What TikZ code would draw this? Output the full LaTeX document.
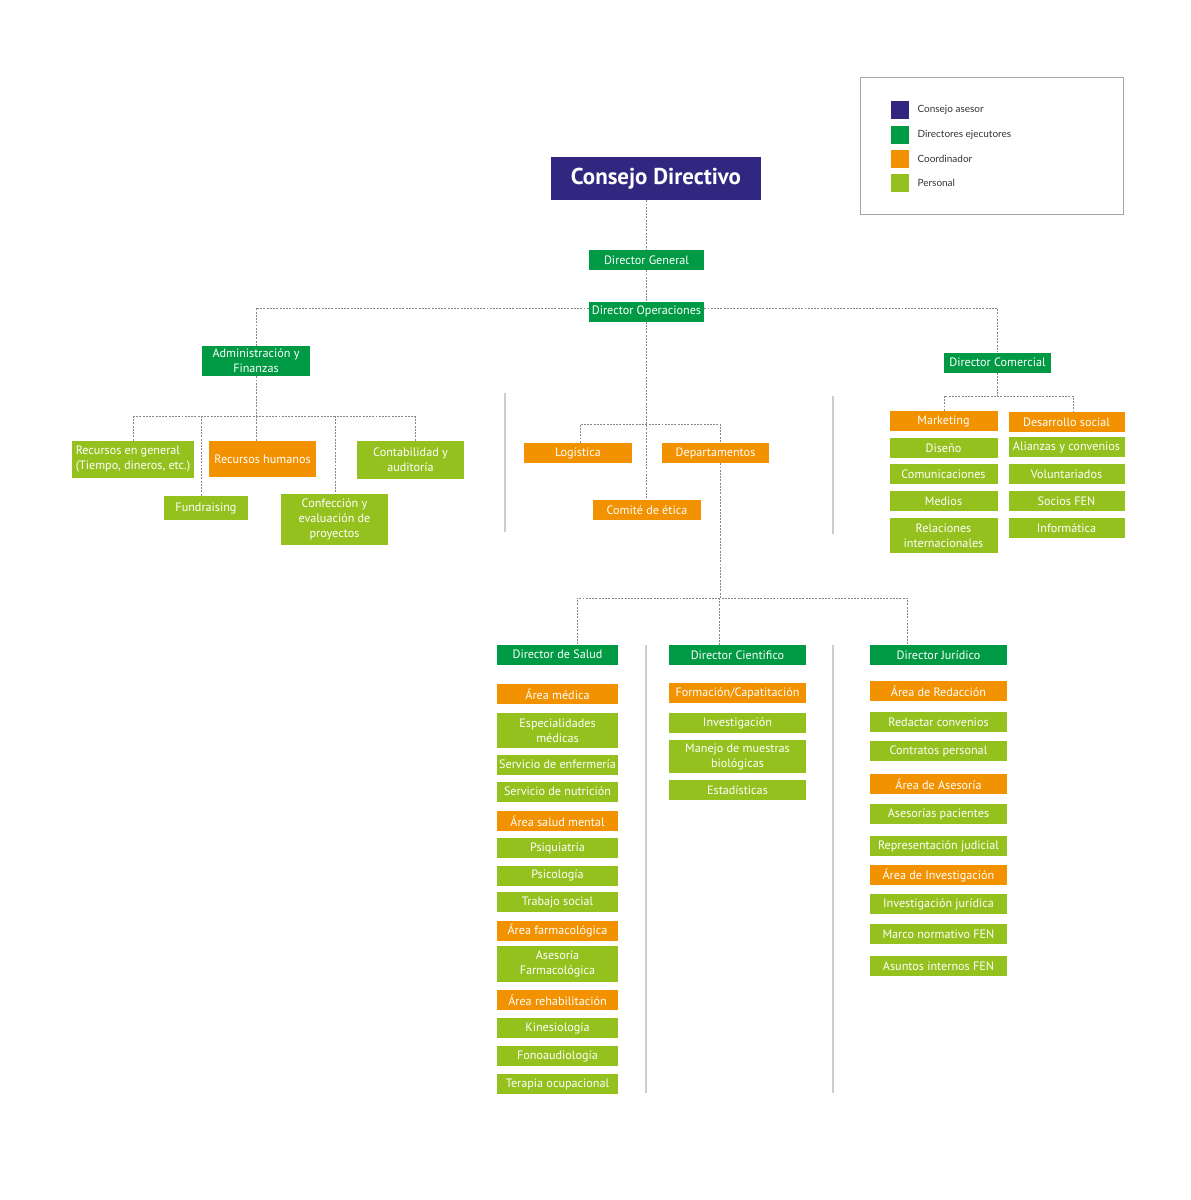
\documentclass[tikz,border=0pt]{standalone}
\usepackage{fontspec}
\setmainfont{PT Sans}
\newfontfamily\legendfont{Lato}
\usetikzlibrary{positioning}
\definecolor{consejoc}{RGB}{50,39,128}
\definecolor{directorc}{RGB}{0,154,68}
\definecolor{coordc}{RGB}{243,146,0}
\definecolor{personalc}{RGB}{149,193,31}
\definecolor{linkc}{RGB}{135,135,135}
\definecolor{sepc}{RGB}{205,205,205}
\definecolor{legc}{RGB}{165,165,165}

\begin{document}
\begin{tikzpicture}[x=0.25mm, y=-0.25mm, font=\fontsize{8.65}{10.7}\selectfont,
box/.style 2 args={rectangle, text=white, inner sep=0pt, align=center,
      minimum width=#1*0.25mm, minimum height=#2*0.25mm},
consbox/.style={fill=consejoc},
dirbox/.style={fill=directorc},
coordbox/.style={fill=coordc},
persbox/.style={fill=personalc},
link/.style={draw=linkc, line width=0.55pt, dash pattern=on 1.4pt off 0.9pt},
sepline/.style={draw=sepc, line width=0.8pt},
legsq/.style={rectangle, minimum size=4.5mm, inner sep=0pt},
legtext/.style={inner sep=0pt, text=black!80, font=\legendfont\fontsize{7.1}{8}\selectfont},]
 \useasboundingbox (0,0) rectangle (1191,1200);

 % legend
 \node[draw=legc, line width=0.7pt, minimum width=65.75mm, minimum height=34.25mm, inner sep=0pt] (legend) at (991.5,145.5) {};
 \node[legsq, fill=consejoc] (legcons) at (900,110) {};
 \node[legsq, fill=directorc] (legdir) at (900,134.5) {};
 \node[legsq, fill=coordc] (legcoord) at (900,158.5) {};
 \node[legsq, fill=personalc] (legpers) at (900,183) {};
 \node[legtext, right=2mm of legcons] (txtcons) {Consejo asesor};
 \node[legtext, right=2mm of legdir] (txtdir) {Directores ejecutores};
 \node[legtext, right=2mm of legcoord] (txtcoord) {Coordinador};
 \node[legtext, right=2mm of legpers] (txtpers) {Personal};

 \node[box={210}{43}, consbox, font=\fontsize{16.3}{18}\selectfont\bfseries] (consejo) at (656,178.5) {Consejo Directivo};
 \node[box={115}{20}, dirbox] (general) at (646.5,260) {Director General};
 \node[box={115}{20}, dirbox] (ops) at (646.5,311.5) {Director Operaciones};
 \node[box={108}{30}, dirbox] (admin) at (256,361) {Administración y\\Finanzas};
 \node[box={107}{20}, dirbox] (comercial) at (997.5,362.5) {Director Comercial};

 \node[box={122}{37}, persbox, align=left] (recgen) at (133,459.5) {Recursos en general\\(Tiempo, dineros, etc.)};
 \node[box={107}{36}, coordbox] (rrhh) at (262.5,459) {Recursos humanos};
 \node[box={107}{38}, persbox] (contab) at (410.5,460) {Contabilidad y\\auditoría};
 \node[box={84}{24}, persbox] (fund) at (206,508) {Fundraising};
 \node[box={107}{51}, persbox] (confec) at (334.5,519.5) {Confección y\\evaluación de\\proyectos};

 \node[box={108}{20}, coordbox] (logist) at (578,453) {Logística};
 \node[box={107}{20}, coordbox] (depto) at (715.5,453) {Departamentos};
 \node[box={108}{20}, coordbox] (etica) at (647,510) {Comité de ética};

 \node[box={108}{20}, coordbox] (mkt) at (943.5,421) {Marketing};
 \node[box={108}{20}, persbox] (diseno) at (943.5,448) {Diseño};
 \node[box={108}{20}, persbox] (comunic) at (943.5,474) {Comunicaciones};
 \node[box={108}{20}, persbox] (medios) at (943.5,501) {Medios};
 \node[box={108}{35}, persbox] (relac) at (943.5,535.5) {Relaciones\\internacionales};
 \node[box={116}{20}, coordbox] (social) at (1066.5,422) {Desarrollo social};
 \node[box={116}{20}, persbox] (alianzas) at (1066.5,447) {Alianzas y convenios};
 \node[box={116}{20}, persbox] (volunt) at (1066.5,474) {Voluntariados};
 \node[box={116}{20}, persbox] (socios) at (1066.5,501) {Socios FEN};
 \node[box={116}{20}, persbox] (inform) at (1066.5,528) {Informática};

 \node[box={121}{20}, dirbox] (dsalud) at (557.5,654.5) {Director de Salud};
 \node[box={121}{20}, coordbox] (amedica) at (557.5,694) {Área médica};
 \node[box={121}{35}, persbox] (especial) at (557.5,730.5) {Especialidades\\médicas};
 \node[box={121}{20}, persbox] (enferm) at (557.5,764.5) {Servicio de enfermería};
 \node[box={121}{20}, persbox] (nutri) at (557.5,791.5) {Servicio de nutrición};
 \node[box={121}{20}, coordbox] (smental) at (557.5,821) {Área salud mental};
 \node[box={121}{20}, persbox] (psiq) at (557.5,848) {Psiquiatría};
 \node[box={121}{20}, persbox] (psico) at (557.5,875.5) {Psicología};
 \node[box={121}{20}, persbox] (tsocial) at (557.5,902) {Trabajo social};
 \node[box={121}{20}, coordbox] (farma) at (557.5,930.5) {Área farmacológica};
 \node[box={121}{36}, persbox] (asefarma) at (557.5,964) {Asesoría\\Farmacológica};
 \node[box={121}{20}, coordbox] (rehab) at (557.5,1000) {Área rehabilitación};
 \node[box={121}{20}, persbox] (kine) at (557.5,1028) {Kinesiología};
 \node[box={121}{20}, persbox] (fono) at (557.5,1056) {Fonoaudiología};
 \node[box={121}{20}, persbox] (terapia) at (557.5,1084) {Terapia ocupacional};

 \node[box={137}{20}, dirbox] (dcient) at (737.5,655) {Director Cientifico};
 \node[box={137}{20}, coordbox] (formac) at (737.5,693) {Formación/Capatitación};
 \node[box={137}{20}, persbox] (invest) at (737.5,723) {Investigación};
 \node[box={137}{33}, persbox] (manejo) at (737.5,756.5) {Manejo de muestras\\biológicas};
 \node[box={137}{20}, persbox] (estad) at (737.5,790) {Estadísticas};

 \node[box={137}{20}, dirbox] (djur) at (938.5,655) {Director Jurídico};
 \node[box={137}{20}, coordbox] (aredac) at (938.5,691) {Área de Redacción};
 \node[box={137}{20}, persbox] (redconv) at (938.5,722) {Redactar convenios};
 \node[box={137}{20}, persbox] (contrat) at (938.5,751) {Contratos personal};
 \node[box={137}{20}, coordbox] (aases) at (938.5,784) {Área de Asesoría};
 \node[box={137}{20}, persbox] (asespac) at (938.5,814) {Asesorías pacientes};
 \node[box={137}{20}, persbox] (repjud) at (938.5,846) {Representación judicial};
 \node[box={137}{20}, coordbox] (ainv) at (938.5,875) {Área de Investigación};
 \node[box={137}{20}, persbox] (invjur) at (938.5,904) {Investigación jurídica};
 \node[box={137}{20}, persbox] (marco) at (938.5,934) {Marco normativo FEN};
 \node[box={137}{20}, persbox] (asuntos) at (938.5,966) {Asuntos internos FEN};

 \coordinate (busops) at (646.5,308);
 \coordinate (busadm) at (256,416);
 \coordinate (buscom) at (997.5,396);

 \draw[link] (consejo.south -| general) -- (general);
 \draw[link] (general) -- (ops);
 \draw[link] (ops.west |- busops) -| (admin);
 \draw[link] (ops.east |- busops) -| (comercial);
 \draw[link] (ops) -- (ops |- etica.north);

 \draw[link] (admin) -- (busadm);
 \draw[link] (133,416) -- (415,416);
 \foreach \xx/\nn in {133/recgen, 201/fund, 256/rrhh, 335/confec, 415/contab}
   \draw[link] (\xx,416) -- (\xx,416 |- \nn.north);

 \draw[link] (comercial) -- (buscom);
 \draw[link] (944,396 |- mkt.north) -- (944,396) -- (1073,396) -- (1073,396 |- social.north);

 \draw[link] (580,424 |- logist.north) -- (580,424) -- (720,424) -- (720,424 |- depto.north);
 \draw[link] (720,424 |- depto.south) -- (720,598);
 \draw[link] (577,598 |- dsalud.north) -- (577,598) -- (907,598) -- (907,598 |- djur.north);
 \draw[link] (719,598) -- (719,598 |- dcient.north);

 \draw[sepline] (505,393) -- (505,532);
 \draw[sepline] (833,396) -- (833,534);
 \draw[sepline] (646,645) -- (646,1093);
 \draw[sepline] (833,645) -- (833,1093);
\end{tikzpicture}
\end{document}
